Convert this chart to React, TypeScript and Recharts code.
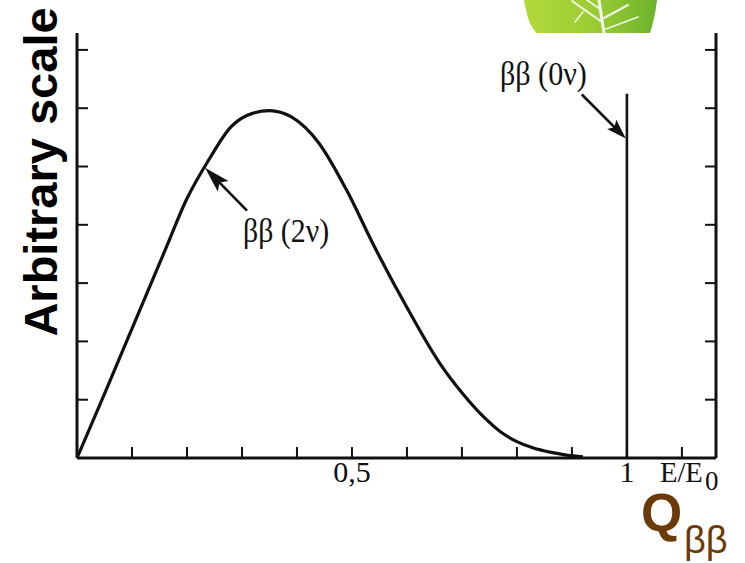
import React from 'react';
import { LineChart, Line, XAxis, YAxis, ReferenceDot } from 'recharts';

// 2nu double-beta spectrum (E/E0 vs arbitrary rate)
const energy2nu = [0, 0.05, 0.1, 0.16, 0.2, 0.24, 0.28, 0.31, 0.35, 0.39, 0.44, 0.49, 0.54, 0.6, 0.66, 0.7, 0.74, 0.77, 0.8, 0.83, 0.86, 0.89, 0.92];
const rate2nu = [0, 1.1, 2.22, 3.56, 4.45, 5.12, 5.68, 5.88, 5.96, 5.85, 5.4, 4.6, 3.64, 2.58, 1.62, 1.12, 0.7, 0.45, 0.28, 0.17, 0.1, 0.05, 0.02];

// 0nu line at the endpoint
const energy0nu = [1, 1];
const rate0nu = [0, 6.25];

const xTicks = [0.1, 0.2, 0.3, 0.4, 0.5, 0.6, 0.7, 0.8, 0.9, 1.0, 1.1];
const yTicks = [1, 2, 3, 4, 5, 6, 7];
const xTickLabels: Record<string, string> = { '0.5': '0,5', '1': '1' };
const xAxisTitle = 'E/E';
const xAxisTitleSub = '0';

const label2nu = 'ββ (2ν)';
const label0nu = 'ββ (0ν)';
const yTitle = 'Arbitrary scale';

const twoNuData = energy2nu.map((e, i) => ({ e, rate: rate2nu[i] }));
const zeroNuData = energy0nu.map((e, i) => ({ e, rate: rate0nu[i] }));

const SERIF = '"Liberation Serif", "Times New Roman", serif';
const SANS = '"Liberation Sans", Arial, sans-serif';
const INK = '#111';

const EmptyTick = () => <g />;

const XTick = (props: any) => {
  const { x, y, payload } = props;
  const v = Math.round(payload.value * 10) / 10;
  const key = String(v);
  if (v === 1.1) {
    return (
      <g>
        <text
          x={x - 22}
          y={y + 35}
          fontFamily={SERIF}
          fontSize={30}
          fill={INK}
          textAnchor="start"
          textLength={43}
          lengthAdjust="spacingAndGlyphs"
        >
          {xAxisTitle}
        </text>
        <text x={x + 23} y={y + 43} fontFamily={SERIF} fontSize={27} fill={INK} textAnchor="start">
          {xAxisTitleSub}
        </text>
      </g>
    );
  }
  const lab = xTickLabels[key];
  if (!lab) return <g />;
  return (
    <text x={x} y={y + 35} fontFamily={SERIF} fontSize={30} fill={INK} textAnchor="middle">
      {lab}
    </text>
  );
};

const makeArrow = (dx: number, dy: number, hl: number, hw: number) => (props: any) => {
  const { cx, cy } = props;
  const len = Math.hypot(dx, dy);
  const ux = dx / len;
  const uy = dy / len;
  const bx = cx + ux * hl;
  const by = cy + uy * hl;
  const nx = -uy;
  const ny = ux;
  return (
    <g>
      <line x1={cx + ux * 8} y1={cy + uy * 8} x2={cx + dx} y2={cy + dy} stroke={INK} strokeWidth={2.6} />
      <polygon
        points={`${cx},${cy} ${bx + nx * hw},${by + ny * hw} ${cx + ux * hl * 0.8},${cy + uy * hl * 0.8} ${bx - nx * hw},${by - ny * hw}`}
        fill={INK}
      />
    </g>
  );
};

const makeLabel = (text: string, w: number) => (props: any) => (
  <text
    x={props.cx}
    y={props.cy}
    fontFamily={SERIF}
    fontSize={33}
    fill={INK}
    textAnchor="start"
    textLength={w}
    lengthAdjust="spacingAndGlyphs"
  >
    {text}
  </text>
);

const Leaf = () => (
  <svg width={745} height={563} style={{ position: 'absolute', left: 0, top: 0 }}>
    <defs>
      <linearGradient id="leafg" x1="0" y1="0" x2="1" y2="0">
        <stop offset="0" stopColor="#b3d93a" />
        <stop offset="0.55" stopColor="#98cc33" />
        <stop offset="1" stopColor="#6db22c" />
      </linearGradient>
    </defs>
    <path d="M524 0 Q528 26 537 33 L650 33 Q655 18 657 0 Z" fill="url(#leafg)" />
    <g stroke="#ffffff" strokeLinecap="round" fill="none" opacity={0.9}>
      <path d="M604 33 L599 0" strokeWidth={3} />
      <path d="M602 22 L572 1" strokeWidth={2} />
      <path d="M600 9 L587 0" strokeWidth={1.6} />
      <path d="M604 18 L628 5" strokeWidth={2} />
      <path d="M606 29 L638 17" strokeWidth={1.6} />
      <path d="M583 12 L575 22" strokeWidth={1.4} />
    </g>
  </svg>
);

const Overlay = () => (
  <svg width={745} height={563} style={{ position: 'absolute', left: 0, top: 0, pointerEvents: 'none' }}>
    <text
      x={57}
      y={172}
      transform="rotate(-90 57 172)"
      textAnchor="middle"
      fontFamily={SANS}
      fontWeight="bold"
      fontSize={47}
      fill="#000"
    >
      {yTitle}
    </text>
    <text x={641} y={531} fontFamily={SANS} fontWeight="bold" fontSize={53} fill="#6b3a06">
      Q
    </text>
    <text x={684} y={553} fontFamily={SANS} fontSize={38} fill="#6b3a06">
      ββ
    </text>
  </svg>
);

export default function App() {
  return (
    <div style={{ position: 'absolute', left: 0, top: 0, width: 745, height: 563, background: '#fff', overflow: 'hidden' }}>
      <Leaf />
      <div style={{ position: 'absolute', left: 0, top: 0 }}>
        <LineChart width={745} height={563} margin={{ top: 33, right: 28, bottom: 104, left: 76 }}>
          <XAxis
            type="number"
            dataKey="e"
            domain={[0, 1.162]}
            ticks={xTicks}
            interval={0}
            height={1}
            allowDataOverflow
            tickSize={-11}
            tickMargin={0}
            tick={<XTick />}
            axisLine={{ stroke: INK, strokeWidth: 3 }}
            tickLine={{ stroke: INK, strokeWidth: 2 }}
          />
          <YAxis
            yAxisId="left"
            orientation="left"
            type="number"
            domain={[0, 7.29]}
            ticks={yTicks}
            interval={0}
            width={1}
            allowDataOverflow
            tickSize={-11}
            tick={<EmptyTick />}
            axisLine={{ stroke: INK, strokeWidth: 3 }}
            tickLine={{ stroke: INK, strokeWidth: 2 }}
          />
          <YAxis
            yAxisId="right"
            orientation="right"
            type="number"
            domain={[0, 7.29]}
            ticks={yTicks}
            interval={0}
            width={1}
            allowDataOverflow
            tickSize={-11}
            tick={<EmptyTick />}
            axisLine={{ stroke: INK, strokeWidth: 3 }}
            tickLine={{ stroke: INK, strokeWidth: 2 }}
          />
          <Line
            yAxisId="left"
            data={twoNuData}
            dataKey="rate"
            type="monotone"
            stroke={INK}
            strokeWidth={3.2}
            dot={false}
            activeDot={false}
            isAnimationActive={false}
          />
          <Line
            yAxisId="right"
            data={zeroNuData}
            dataKey="rate"
            type="linear"
            stroke={INK}
            strokeWidth={2.6}
            dot={false}
            activeDot={false}
            isAnimationActive={false}
          />
          <ReferenceDot yAxisId="left" x={0.2327} y={4.98} r={0} shape={makeArrow(42, 43, 26, 7.5)} />
          <ReferenceDot yAxisId="left" x={0.998} y={5.48} r={0} shape={makeArrow(-44, -44, 20, 6.5)} />
          <ReferenceDot yAxisId="left" x={0.302} y={3.7} r={0} shape={makeLabel(label2nu, 86)} />
          <ReferenceDot yAxisId="left" x={0.769} y={6.4} r={0} shape={makeLabel(label0nu, 87)} />
        </LineChart>
      </div>
      <Overlay />
    </div>
  );
}
